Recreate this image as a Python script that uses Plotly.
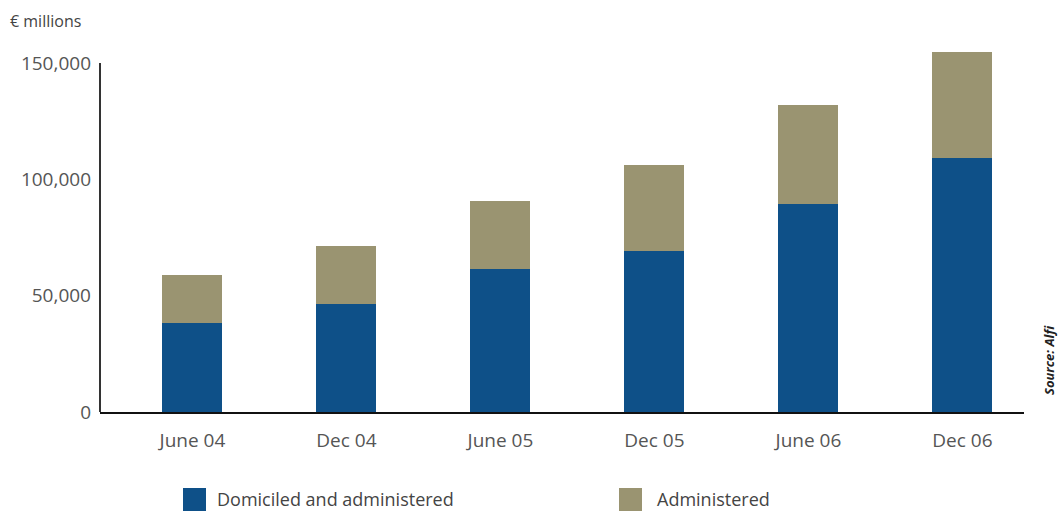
import plotly.graph_objects as go

categories = ["June 04", "Dec 04", "June 05", "Dec 05", "June 06", "Dec 06"]
domiciled = [38200, 46400, 61500, 69400, 89200, 109300]
administered = [20800, 25100, 29400, 36800, 42800, 45300]
series_names = ["Domiciled and administered", "Administered"]
colors = ["#0E5088", "#9A9471"]
y_ticks = [0, 50000, 100000, 150000]

fig = go.Figure()
fig.add_trace(go.Bar(x=categories, y=domiciled, name=series_names[0],
                     marker=dict(color=colors[0], line=dict(width=0)), showlegend=False))
fig.add_trace(go.Bar(x=categories, y=administered, name=series_names[1],
                     marker=dict(color=colors[1], line=dict(width=0)), showlegend=False))

L, R, T, B = 100, 38, 47, 100
W, H = 1062, 512
pw = W - L - R
ph = H - T - B

def px_x(p):
    return (p - L) / pw

def px_y(p):
    return (H - B - p) / ph

shapes = [
    dict(type="line", xref="paper", yref="y", x0=0, x1=0, y0=0, y1=150000,
         line=dict(color="#333333", width=2)),
]
annotations = []

# legend (squares + labels)
leg = [(183, 206, 215), (619, 642, 655)]
for (sx0, sx1, tx), name, col in zip(leg, series_names, colors):
    shapes.append(dict(type="rect", xref="paper", yref="paper",
                       x0=px_x(sx0), x1=px_x(sx1), y0=px_y(511), y1=px_y(488),
                       fillcolor=col, line=dict(width=0)))
    annotations.append(dict(text=name, xref="paper", yref="paper", x=px_x(tx), y=px_y(499),
                            xanchor="left", yanchor="middle", showarrow=False,
                            font=dict(family="Open Sans", size=18, color="#444444")))

annotations.append(dict(text="€ millions", xref="paper", yref="paper", x=px_x(8), y=px_y(21),
                        xanchor="left", yanchor="middle", showarrow=False,
                        font=dict(family="Open Sans", size=16, color="#444444")))
annotations.append(dict(text="<b><i>Source: Alfi</i></b>", xref="paper", yref="paper",
                        x=px_x(1049), y=px_y(361), xanchor="center", yanchor="middle",
                        textangle=-90, showarrow=False,
                        font=dict(family="Open Sans", size=13, color="#222222")))

fig.update_layout(
    width=W, height=H,
    margin=dict(l=L, r=R, t=T, b=B),
    barmode="stack", bargap=0.61,
    plot_bgcolor="white", paper_bgcolor="white",
    shapes=shapes, annotations=annotations,
    xaxis=dict(range=[-0.6, 5.4], showline=True, linecolor="#111111", linewidth=2,
               showgrid=False, zeroline=False, ticks="",
               tickfont=dict(family="Open Sans", size=19, color="#555555"),
               ticklabelstandoff=10),
    yaxis=dict(range=[0, 156900], showline=False, showgrid=False, zeroline=False,
               tickvals=y_ticks, tickformat=",", ticks="",
               tickfont=dict(family="Open Sans", size=19, color="#555555"),
               ticklabelstandoff=8),
)

fig.write_html("out.html")
